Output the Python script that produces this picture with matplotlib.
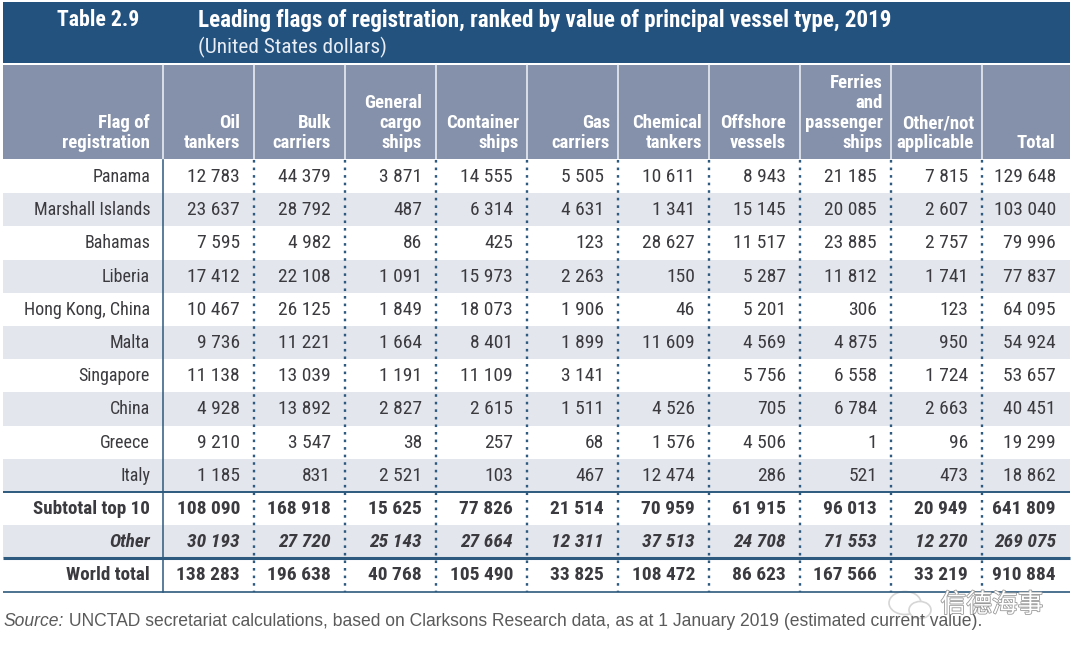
from __future__ import annotations

import matplotlib.pyplot as plt
import matplotlib.patheffects as pe
from matplotlib import font_manager
from matplotlib.patches import Ellipse, Rectangle

# Table content
TABLE_NO = "Table 2.9"
TITLE = "Leading flags of registration, ranked by value of principal vessel type, 2019"
SUBTITLE = "(United States dollars)"
SOURCE_LABEL = "Source:"
SOURCE = "UNCTAD secretariat calculations, based on Clarksons Research data, as at 1 January 2019 (estimated current value)."
WATERMARK = "信德海事"

headers = [
    ["Flag of", "registration"],
    ["Oil", "tankers"],
    ["Bulk", "carriers"],
    ["General", "cargo", "ships"],
    ["Container", "ships"],
    ["Gas", "carriers"],
    ["Chemical", "tankers"],
    ["Offshore", "vessels"],
    ["Ferries", "and", "passenger", "ships"],
    ["Other/not", "applicable"],
    ["Total"],
]

flags = [
    "Panama", "Marshall Islands", "Bahamas", "Liberia", "Hong Kong, China",
    "Malta", "Singapore", "China", "Greece", "Italy",
    "Subtotal top 10", "Other", "World total",
]
oil_tankers = ["12 783", "23 637", "7 595", "17 412", "10 467", "9 736", "11 138", "4 928", "9 210", "1 185", "108 090", "30 193", "138 283"]
bulk_carriers = ["44 379", "28 792", "4 982", "22 108", "26 125", "11 221", "13 039", "13 892", "3 547", "831", "168 918", "27 720", "196 638"]
general_cargo = ["3 871", "487", "86", "1 091", "1 849", "1 664", "1 191", "2 827", "38", "2 521", "15 625", "25 143", "40 768"]
container_ships = ["14 555", "6 314", "425", "15 973", "18 073", "8 401", "11 109", "2 615", "257", "103", "77 826", "27 664", "105 490"]
gas_carriers = ["5 505", "4 631", "123", "2 263", "1 906", "1 899", "3 141", "1 511", "68", "467", "21 514", "12 311", "33 825"]
chemical_tankers = ["10 611", "1 341", "28 627", "150", "46", "11 609", "", "4 526", "1 576", "12 474", "70 959", "37 513", "108 472"]
offshore_vessels = ["8 943", "15 145", "11 517", "5 287", "5 201", "4 569", "5 756", "705", "4 506", "286", "61 915", "24 708", "86 623"]
ferries = ["21 185", "20 085", "23 885", "11 812", "306", "4 875", "6 558", "6 784", "1", "521", "96 013", "71 553", "167 566"]
other_na = ["7 815", "2 607", "2 757", "1 741", "123", "950", "1 724", "2 663", "96", "473", "20 949", "12 270", "33 219"]
totals = ["129 648", "103 040", "79 996", "77 837", "64 095", "54 924", "53 657", "40 451", "19 299", "18 862", "641 809", "269 075", "910 884"]

# Layout in image pixels
_W, _H = 1080, 653
_LEFT, _RIGHT = 3, 1070
_COL_EDGES = [163, 254, 345, 436, 527, 618, 709, 800, 891, 982]
_HEAD_PAD = [13, 14, 14, 14, 8, 8, 7, 14, 8, 8, 15]
_ROW_TOP = 160
_ROW_H = 33.2

_BANNER = "#23527f"
_HEAD_BG = "#8591aa"
_BAND = "#e3e6ed"
_RULE = "#2d5a7e"
_INK = "#3b3b3f"

_available = {f.name for f in font_manager.fontManager.ttflist}
_NARROW = next(
    (n for n in ["Roboto Condensed", "Archivo Narrow", "Liberation Sans Narrow", "Liberation Sans"] if n in _available),
    "DejaVu Sans",
)


def _draw_banner(ax: plt.Axes) -> None:
    ax.add_patch(Rectangle((_LEFT, 2), _RIGHT - _LEFT, 61, color=_BANNER, lw=0))
    ax.text(57, 20, TABLE_NO, color="white", fontsize=15.7, family=_NARROW,
            weight="bold", va="center")
    ax.text(198, 20, TITLE, color="white", fontsize=16.55, family=_NARROW,
            weight="bold", va="center")
    ax.text(198, 47.5, SUBTITLE, color="#e8edf3", fontsize=15.4, family=_NARROW,
            va="center")


def _draw_header(ax: plt.Axes) -> None:
    ax.add_patch(Rectangle((_LEFT, 65), _RIGHT - _LEFT, 94, color=_HEAD_BG, lw=0))
    for x in _COL_EDGES:
        ax.plot([x, x], [65, 159], color="#f2f4f7", lw=1.1)
    rights = _COL_EDGES + [_RIGHT]
    for right, pad, lines in zip(rights, _HEAD_PAD, headers):
        for k, line in enumerate(reversed(lines)):
            ax.text(right - pad, 143.5 - 20 * k, line, color="white", fontsize=13.5,
                    family=_NARROW, weight="bold", ha="right", va="center")


def _draw_body(ax: plt.Axes, columns: list[list[str]]) -> None:
    n_rows = len(flags)
    bottom = _ROW_TOP + n_rows * _ROW_H
    for i in range(1, n_rows, 2):
        y = _ROW_TOP + i * _ROW_H
        ax.add_patch(Rectangle((_LEFT, y), _RIGHT - _LEFT, _ROW_H, color=_BAND, lw=0))

    ax.plot([163, 163], [_ROW_TOP, bottom], color=_RULE, lw=1.1)
    for x in _COL_EDGES[1:]:
        ax.plot([x, x], [_ROW_TOP, bottom], color=_RULE, lw=1.7, ls=(0, (1.1, 2.1)))

    for row, lw in [(10, 1.4), (12, 2.2), (13, 1.2)]:
        y = _ROW_TOP + row * _ROW_H
        ax.plot([_LEFT, _RIGHT], [y, y], color=_RULE, lw=lw, solid_capstyle="butt")

    rights = _COL_EDGES + [_RIGHT]
    for i, flag in enumerate(flags):
        y = _ROW_TOP + (i + 0.5) * _ROW_H + 0.5
        weight = "bold" if i >= 10 else "normal"
        style = "italic" if i == 11 else "normal"
        ax.text(150, y, flag, color=_INK, fontsize=13.7 if i >= 10 else 13,
                family=_NARROW, weight=weight, style=style, ha="right", va="center")
        for right, col in zip(rights[1:], columns):
            ax.text(right - 14, y, col[i], color=_INK, fontsize=14, family=_NARROW,
                    weight=weight, style=style, ha="right", va="center")


def _draw_source(ax: plt.Axes) -> None:
    label = ax.text(4, 621, SOURCE_LABEL, color="#5a5a5a", fontsize=12.65,
                    family="Liberation Sans", style="italic", va="center")
    ax.annotate(" " + SOURCE, xy=(1, 0.5), xycoords=label, color="#5a5a5a", fontsize=12.65,
                family="Liberation Sans", va="center")


def _draw_watermark(ax: plt.Axes) -> None:
    ax.add_patch(Ellipse((905, 603), 32, 23, fc="none", ec="#d6d6d6", lw=1.2))
    ax.add_patch(Ellipse((920, 610), 22, 17, fc="white", ec="#d6d6d6", lw=1.2))
    ax.text(992, 605, WATERMARK, color="white", fontsize=18.5,
            family=["Noto Sans CJK SC", "DejaVu Sans"], ha="center", va="center",
            path_effects=[pe.withStroke(linewidth=1.2, foreground="#9a9a9a")])


def main() -> None:
    columns = [
        oil_tankers, bulk_carriers, general_cargo, container_ships, gas_carriers,
        chemical_tankers, offshore_vessels, ferries, other_na, totals,
    ]
    fig = plt.figure(figsize=(_W / 100, _H / 100), dpi=100, facecolor="white")
    ax = fig.add_axes([0, 0, 1, 1])
    ax.set_xlim(0, _W)
    ax.set_ylim(_H, 0)
    ax.axis("off")

    _draw_banner(ax)
    _draw_header(ax)
    _draw_body(ax, columns)
    _draw_source(ax)
    _draw_watermark(ax)

    fig.savefig("out.png", dpi=100)
    plt.close(fig)


if __name__ == "__main__":
    main()
